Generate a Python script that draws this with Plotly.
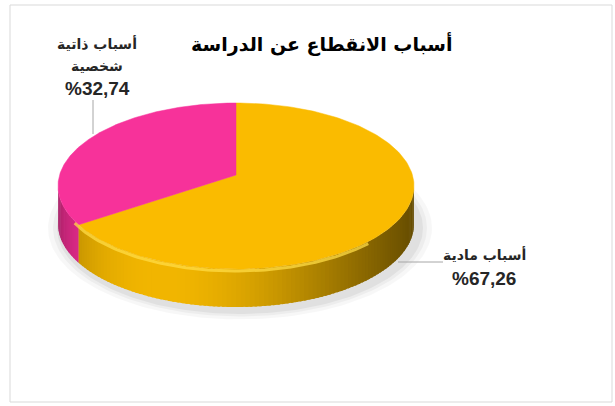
import numpy as np
import plotly.graph_objects as go

# ---------------- data ----------------
categories = ["أسباب مادية", "أسباب ذاتية شخصية"]
label_lines = [["أسباب مادية"], ["أسباب ذاتية", "شخصية"]]
values = [67.26, 32.74]
title_text = "أسباب الانقطاع عن الدراسة"

# ---------------- style ----------------
top_colors = [(250, 187, 0), (247, 50, 154)]
side_colors = [(242, 182, 0), (262, 50, 160)]
CX, CY, A, B, H = 236, 186, 178, 83, 38
APEX_Y = 175
W, HGT = 615, 406


def shade(rgb, f):
    return "rgb(%d,%d,%d)" % tuple(max(0, min(255, int(c * f))) for c in rgb)


def light(t):
    return 0.4 + 0.6 * ((1 + np.cos(np.radians(t - 245))) / 2) ** 3


def ex(t):
    return CX + A * np.cos(np.radians(t))


def ey(t):
    return CY - B * np.sin(np.radians(t))


total = sum(values)
cum = np.concatenate([[0], np.cumsum(values)]) / total
starts = 90 - 360 * cum[:-1]
ends = 90 - 360 * cum[1:]

fig = go.Figure()

# soft shadow
for k, alpha in [(14, 0.03), (9, 0.04), (5, 0.05)]:
    tt = np.linspace(0, 360, 200)
    fig.add_trace(go.Scatter(
        x=CX + 4 + (A + k) * np.cos(np.radians(tt)),
        y=CY + H + 4 - (B + k * 0.6) * np.sin(np.radians(tt)),
        fill="toself", fillcolor="rgba(0,0,0,%g)" % alpha,
        line=dict(width=0), mode="lines", hoverinfo="skip", showlegend=False))


def slice_of(t):
    frac = ((90 - t) % 360) / 360
    for i in range(len(values)):
        if cum[i] <= frac < cum[i + 1]:
            return i
    return len(values) - 1


# side strips (front half visible)
edges = list(np.linspace(180, 360, 121))
for s in starts:
    sm = s % 360
    if 180 < sm < 360:
        edges.append(sm)
edges = sorted(set(edges))
for t0, t1 in zip(edges[:-1], edges[1:]):
    tm = (t0 + t1) / 2
    i = slice_of(tm)
    col = shade(side_colors[i], light(tm))
    t1e = min(t1 + 0.8, 360) if slice_of(min(t1 + 0.4, 359.9)) == i else t1
    ts = np.linspace(t0, t1e, 4)
    xs = list(ex(ts)) + list(ex(ts[::-1]))
    ys = list(ey(ts)) + list(ey(ts[::-1]) + H)
    fig.add_trace(go.Scatter(x=xs, y=ys, fill="toself", fillcolor=col,
                             line=dict(width=0), mode="lines",
                             hoverinfo="skip", showlegend=False))

# top surface slices
for i in range(len(values)):
    ts = np.linspace(starts[i], ends[i], 200)
    xs = [CX] + list(ex(ts)) + [CX]
    ys = [APEX_Y] + list(ey(ts)) + [APEX_Y]
    col = "rgb(%d,%d,%d)" % top_colors[i]
    fig.add_trace(go.Scatter(x=xs, y=ys, fill="toself", fillcolor=col,
                             line=dict(width=0.5, color=col), mode="lines",
                             hoverinfo="skip", showlegend=False))

# rim highlight
tr = np.linspace(205, 318, 80)
fig.add_trace(go.Scatter(x=ex(tr), y=ey(tr) + 2, mode="lines",
                         line=dict(color="rgba(255,220,70,0.75)", width=3),
                         hoverinfo="skip", showlegend=False))

# leader lines
fig.add_trace(go.Scatter(x=[93, 93], y=[100, 134], mode="lines",
                         line=dict(color="#A6A6A6", width=1),
                         hoverinfo="skip", showlegend=False))
fig.add_trace(go.Scatter(x=[398, 443], y=[262, 262], mode="lines",
                         line=dict(color="#A6A6A6", width=1),
                         hoverinfo="skip", showlegend=False))

ar_font = "DejaVu Sans"
num_font = "Liberation Sans, Arial, DejaVu Sans"

# labels
label_pos = [(97, 43, 88)]
label_pos = [(484, 254, 278)] + label_pos
for i in range(len(values)):
    lx, ly, py = label_pos[i]
    for j, line in enumerate(label_lines[i]):
        fig.add_annotation(x=lx, y=ly + j * 23, text="<b>%s</b>" % line,
                           showarrow=False, xref="x", yref="y",
                           font=dict(family=ar_font, size=14, color="#262626"))
    pct = "%" + ("%.2f" % values[i]).replace(".", ",")
    fig.add_annotation(x=lx, y=py, text="<b>%s</b>" % pct, showarrow=False,
                       xref="x", yref="y",
                       font=dict(family=num_font, size=19, color="#262626"))

# title
fig.add_annotation(x=321, y=44, text="<b>%s</b>" % title_text, showarrow=False,
                   xref="x", yref="y",
                   font=dict(family=ar_font, size=19, color="#000000"))

fig.update_layout(
    width=W, height=HGT, margin=dict(l=0, r=0, t=0, b=0),
    paper_bgcolor="white", plot_bgcolor="white",
    xaxis=dict(range=[0, W], visible=False, fixedrange=True),
    yaxis=dict(range=[HGT, 0], visible=False, fixedrange=True),
    showlegend=False,
    shapes=[dict(type="rect", xref="paper", yref="paper",
                 x0=10 / W, x1=612 / W, y0=1 - 402 / HGT, y1=1 - 5 / HGT,
                 line=dict(color="#D9D9D9", width=1), fillcolor="rgba(0,0,0,0)")],
)

fig.write_html("out.html", config={"displayModeBar": False},
               post_script="document.body.style.margin='0';")
